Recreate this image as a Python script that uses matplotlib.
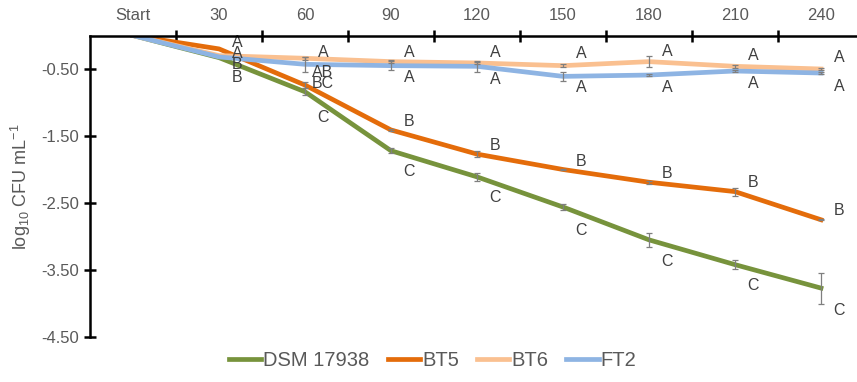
import matplotlib

matplotlib.use("Agg")
import matplotlib.pyplot as plt
from matplotlib.lines import Line2D

plt.rcParams["font.family"] = ["Liberation Sans", "DejaVu Sans"]
plt.rcParams["mathtext.fontset"] = "custom"
plt.rcParams["mathtext.rm"] = "Liberation Sans"

# sampling times (min) and log10 reductions
times = ["Start", "30", "60", "90", "120", "150", "180", "210", "240"]

dsm = [0.0, -0.33, -0.84, -1.72, -2.11, -2.56, -3.05, -3.42, -3.77]
bt5 = [0.0, -0.20, -0.74, -1.41, -1.77, -2.00, -2.19, -2.33, -2.75]
bt6 = [0.0, -0.30, -0.34, -0.39, -0.41, -0.45, -0.39, -0.46, -0.50]
ft2 = [0.0, -0.32, -0.43, -0.45, -0.46, -0.61, -0.59, -0.53, -0.56]

dsm_err = [0.0, 0.0, 0.05, 0.04, 0.06, 0.05, 0.10, 0.07, 0.23]
bt5_err = [0.0, 0.0, 0.04, 0.02, 0.04, 0.01, 0.02, 0.06, 0.01]
bt6_err = [0.0, 0.0, 0.02, 0.02, 0.02, 0.02, 0.08, 0.02, 0.02]
ft2_err = [0.0, 0.0, 0.11, 0.07, 0.08, 0.07, 0.02, 0.02, 0.02]

# significance letters
dsm_sig = ["", "B", "C", "C", "C", "C", "C", "C", "C"]
bt5_sig = ["", "A", "BC", "B", "B", "B", "B", "B", "B"]
bt6_sig = ["", "A", "A", "A", "A", "A", "A", "A", "A"]
ft2_sig = ["", "B", "AB", "A", "A", "A", "A", "A", "A"]

# vertical offsets of the letters (pixels, + is up)
dsm_dy = [0, -20, -26, -21, -21, -23, -22, -21, -22]
bt5_dy = [0, 6, 2, 8, 9, 8, 9, 9, 9]
bt6_dy = [0, 2, 6, 9, 10, 12, 10, 11, 11]
ft2_dy = [0, -8, -8, -12, -13, -11, -12, -12, -13]

series = [
    ("DSM 17938", dsm, dsm_err, dsm_sig, dsm_dy, "#77933C"),
    ("BT5", bt5, bt5_err, bt5_sig, bt5_dy, "#E46C0A"),
    ("BT6", bt6, bt6_err, bt6_sig, bt6_dy, "#FAC090"),
    ("FT2", ft2, ft2_err, ft2_sig, ft2_dy, "#8EB4E3"),
]

grey = "#595959"

fig = plt.figure(figsize=(8.57, 3.82), dpi=100)
ax = fig.add_axes([90 / 857, 45 / 382, 774 / 857, 301.5 / 382])

x = list(range(len(times)))
for i, (name, vals, errs, sig, dy, color) in enumerate(series):
    ax.plot(x, vals, color=color, lw=3.4, solid_joinstyle="round", zorder=2 + i)
    # only points with a measured spread get an error bar
    idx = [k for k, e in enumerate(errs) if e > 0]
    ax.errorbar([x[k] for k in idx], [vals[k] for k in idx],
                yerr=[errs[k] for k in idx], fmt="none", ecolor="#7F7F7F",
                elinewidth=0.9, capsize=2.5, capthick=0.9, zorder=10)
    for xi, v, s, d in zip(x, vals, sig, dy):
        if s:
            ax.annotate(s, (xi, v), xytext=(18, d), textcoords="offset pixels",
                        ha="center", va="center", fontsize=11.5, color="#404040",
                        zorder=12)

ax.set_xlim(-0.5, len(times) - 0.5)
ax.set_ylim(-4.5, 0)

# category axis on top, ticks between categories
ax.xaxis.tick_top()
ax.set_xticks([i + 0.5 for i in range(len(times) - 1)])
ax.set_xticklabels([])
ax.set_xticks(x, minor=True)
ax.set_xticklabels(times, minor=True)
ax.tick_params(axis="x", which="major", direction="inout", length=8, width=1.8,
               color="black")
ax.tick_params(axis="x", which="minor", length=0, pad=9, labelsize=12,
               labelcolor=grey)

ax.set_yticks([-0.5, -1.5, -2.5, -3.5, -4.5])
ax.set_yticklabels(["-0.50", "-1.50", "-2.50", "-3.50", "-4.50"])
ax.tick_params(axis="y", direction="inout", length=8, width=1.8, pad=4,
               labelsize=12, labelcolor=grey)

for side in ("bottom", "right"):
    ax.spines[side].set_visible(False)
for side in ("top", "left"):
    ax.spines[side].set_linewidth(1.8)
    ax.spines[side].set_zorder(20)

ax.set_ylabel("log$_{10}$ CFU mL$^{-1}$", fontsize=13, color=grey, labelpad=6)

handles = [Line2D([], [], color=c, lw=3.4) for _, _, _, _, _, c in series]
labels = [s[0] for s in series]
fig.legend(handles, labels, loc="lower center", bbox_to_anchor=(0.505, -0.015),
           ncol=4, frameon=False, fontsize=14.5, handlelength=1.6,
           handletextpad=0.1, columnspacing=0.9, labelcolor=grey)

fig.savefig("out.png", dpi=100)
